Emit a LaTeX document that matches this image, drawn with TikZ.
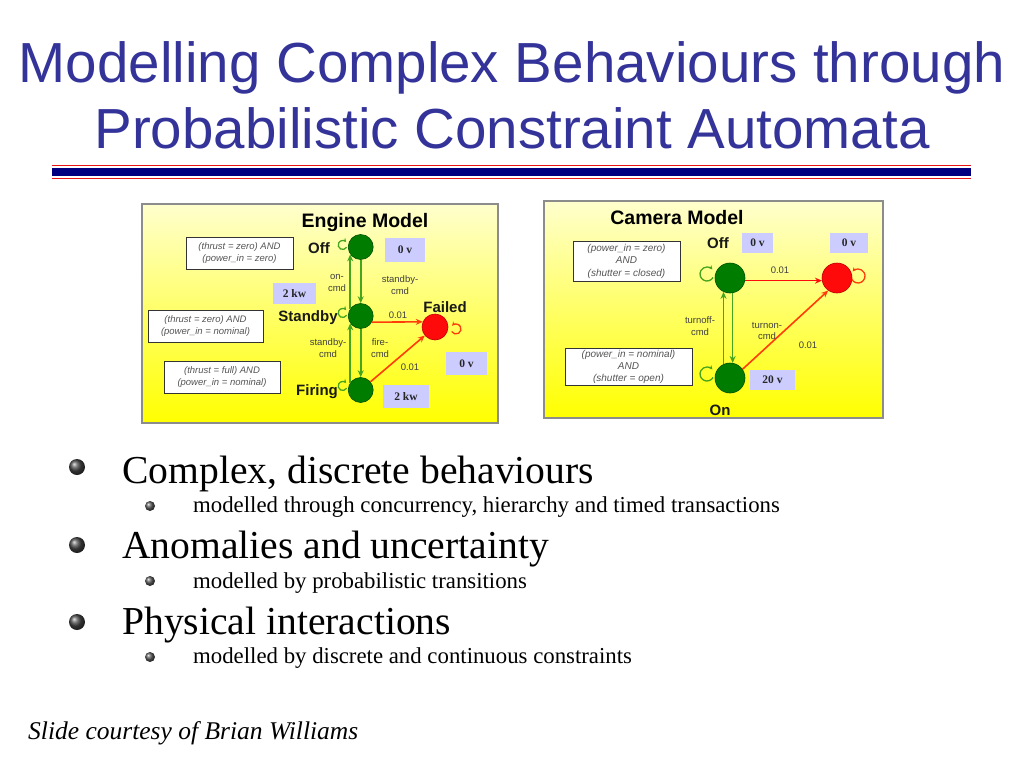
\documentclass[tikz,border=0pt]{standalone}
\usepackage{fontspec}
\setmainfont{Liberation Serif}
\newfontfamily\arialf{Liberation Sans}
\usetikzlibrary{arrows.meta,calc}
\definecolor{titleblue}{RGB}{51,51,153}
\definecolor{navyrule}{RGB}{0,0,128}
\definecolor{rulered}{RGB}{230,20,20}
\definecolor{nodegreen}{RGB}{0,125,0}
\definecolor{nodegreenedge}{RGB}{0,80,0}
\definecolor{arrgreen}{RGB}{70,165,30}
\definecolor{failred}{RGB}{255,10,10}
\definecolor{arrorange}{RGB}{255,60,10}
\definecolor{lavender}{RGB}{204,204,255}
\definecolor{paleyellow}{RGB}{255,255,205}
\definecolor{panelborder}{RGB}{140,140,140}
\definecolor{constrtext}{RGB}{85,85,85}
\tikzset{
  panel/.style={draw=panelborder,line width=1.6pt,top color=paleyellow,bottom color=yellow},
  gstate/.style={circle,fill=nodegreen,draw=nodegreenedge,line width=0.6pt,inner sep=0pt},
  rstate/.style={circle,fill=failred,draw=red!75!black,line width=0.6pt,inner sep=0pt},
  garr/.style={draw=arrgreen,line width=1.6pt,-{Stealth[length=7pt,width=6pt]}},
  oarr/.style={draw=arrorange,line width=1.6pt,-{Stealth[length=7pt,width=6pt]}},
  gloop/.style={draw=arrgreen,line width=1.3pt,-{Stealth[length=4pt,width=4pt]}},
  oloop/.style={draw=arrorange,line width=1.3pt,-{Stealth[length=4pt,width=4pt]}},
  constr/.style={draw=black!80,line width=0.9pt,fill=white,inner sep=0pt,align=center,
     font=\arialf\itshape\fontsize{9.5}{12.5}\selectfont,text=constrtext},
  volt/.style={fill=lavender,inner sep=0pt,font=\bfseries\fontsize{11.5}{12}\selectfont,text=black!85},
  slabel/.style={font=\arialf\bfseries\fontsize{15}{16}\selectfont,text=black!90,inner sep=0pt},
  mtitle/.style={font=\arialf\bfseries\fontsize{19.5}{20}\selectfont,inner sep=0pt},
  elabel/.style={font=\arialf\fontsize{9.5}{11.5}\selectfont,text=black!75,align=center,inner sep=0pt},
  bigball/.style={circle,shading=ball,ball color=black!72,inner sep=0pt,minimum size=16pt},
  smallball/.style={circle,shading=ball,ball color=black!65,inner sep=0pt,minimum size=10pt},
  btext/.style={anchor=base west,inner sep=0pt,font=\fontsize{39.6}{44}\selectfont},
  stext/.style={anchor=base west,inner sep=0pt,font=\fontsize{22.8}{26}\selectfont},
}
\begin{document}
\begin{tikzpicture}[x=1pt,y=-1pt]
\useasboundingbox (0,0) rectangle (1024,768);
\fill[white] (0,0) rectangle (1024,768);

% Title
\node[anchor=base,inner sep=0pt,text=titleblue,font=\arialf\fontsize{56.5}{66}\selectfont] (t1) at (512,82) {Modelling Complex Behaviours through};
\node[anchor=base,inner sep=0pt,text=titleblue,font=\arialf\fontsize{56.5}{66}\selectfont] (t2) at (512,148) {Probabilistic Constraint Automata};

% Rules
\draw[rulered,line width=1.5pt] (52,165.5) -- (971,165.5);
\fill[navyrule] (52,168) rectangle (971,176);
\draw[rulered,line width=1.5pt] (52,178.5) -- (971,178.5);

% ===== Engine panel =====
\path[panel] (142,204) rectangle (498,423);
\node[mtitle] (etitle) at (365,222) {Engine Model};

\node[gstate,minimum size=25pt] (eoff) at (360.7,247) {};
\node[gstate,minimum size=25pt] (estb) at (360.7,316) {};
\node[gstate,minimum size=25pt] (efir) at (360.7,390) {};
\node[rstate,minimum size=26pt] (efail) at (435,327) {};

\node[slabel] (loff) at (319,248) {Off};
\node[slabel] (lstb) at (308,318) {Standby};
\node[slabel] (lfir) at (317,392) {Firing};
\node[slabel] (lfail) at (445,307) {Failed};

\node[constr,minimum width=107pt,minimum height=32pt] (ec1) at (239.5,253) {(thrust = zero) AND\\(power\_in = zero)};
\node[constr,minimum width=115pt,minimum height=32pt] (ec2) at (205.5,326) {(thrust = zero) AND\\(power\_in = nominal)};
\node[constr,minimum width=116pt,minimum height=32pt] (ec3) at (222,377) {(thrust = full) AND\\(power\_in = nominal)};

\node[volt,minimum width=40pt,minimum height=24pt] (ev1) at (405,250) {0 v};
\node[volt,minimum width=43pt,minimum height=21pt] (ev2) at (294.5,293.5) {2 kw};
\node[volt,minimum width=41pt,minimum height=23pt] (ev3) at (466.5,363.5) {0 v};
\node[volt,minimum width=46pt,minimum height=23pt] (ev4) at (406,396.5) {2 kw};

\draw[garr] (estb.145) -- (eoff.215);
\draw[garr] (eoff.south) -- (estb.north);
\draw[garr] (efir.145) -- (estb.215);
\draw[garr] (estb.south) -- (efir.north);
\draw[oarr] (estb.-29) -- (efail.157);
\draw[oarr] (efir.40) -- (efail.220);

\draw[gloop] ($(eoff)+(-18,-2)$) ++(30:4.5) arc[start angle=30,end angle=320,radius=4.5];
\draw[gloop] ($(estb)+(-18,-3)$) ++(30:4.5) arc[start angle=30,end angle=320,radius=4.5];
\draw[gloop] ($(efir)+(-18,-4)$) ++(30:4.5) arc[start angle=30,end angle=320,radius=4.5];
\draw[oloop] ($(efail)+(21,2)$) ++(150:5) arc[start angle=150,end angle=-140,radius=5];

\node[elabel] (el1) at (337,283) {on-\\cmd};
\node[elabel] (el2) at (400,285) {standby-\\cmd};
\node[elabel] (el3) at (328,348) {standby-\\cmd};
\node[elabel] (el4) at (380,348) {fire-\\cmd};
\node[elabel] (el5) at (398,315) {0.01};
\node[elabel] (el6) at (410,367) {0.01};

% ===== Camera panel =====
\path[panel] (544,201) rectangle (883,418);
\node[mtitle] (ctitle) at (677,218) {Camera Model};

\node[gstate,minimum size=30pt] (coff) at (730,278) {};
\node[rstate,minimum size=30pt] (cred) at (837,278) {};
\node[gstate,minimum size=30pt] (con) at (730,378) {};

\node[slabel] (lcoff) at (718,243) {Off};
\node[slabel] (lcon) at (720,410) {On};

\node[constr,minimum width=107pt,minimum height=40pt,font=\arialf\itshape\fontsize{10}{12.5}\selectfont] (cc1) at (626.5,261) {(power\_in = zero)\\AND\\(shutter = closed)};
\node[constr,minimum width=127pt,minimum height=37pt,font=\arialf\itshape\fontsize{10}{12}\selectfont] (cc2) at (628.5,366.5) {(power\_in = nominal)\\AND\\(shutter = open)};

\node[volt,minimum width=31pt,minimum height=20pt] (cv1) at (757.5,243) {0 v};
\node[volt,minimum width=38pt,minimum height=20pt] (cv2) at (849,243) {0 v};
\node[volt,minimum width=45pt,minimum height=20pt] (cv3) at (772.5,380) {20 v};

\draw[oarr,draw=failred] (coff.-10) -- (cred.190);
\draw[garr] (con.115) -- (coff.245);
\draw[garr] (coff.-80) -- (con.80);
\draw[oarr] (con.35) -- (cred.235);

\draw[gloop] ($(coff)+(-23,-4)$) ++(30:7) arc[start angle=30,end angle=320,radius=7];
\draw[gloop] ($(con)+(-23,-4)$) ++(30:7) arc[start angle=30,end angle=320,radius=7];
\draw[oloop] ($(cred)+(21,-2)$) ++(150:7) arc[start angle=150,end angle=-140,radius=7];

\node[elabel] (cl1) at (700,326) {turnoff-\\cmd};
\node[elabel] (cl2) at (767,331) {turnon-\\cmd};
\node[elabel] (cl3) at (780,270) {0.01};
\node[elabel] (cl4) at (808,345) {0.01};

% ===== Bullets =====
\node[bigball] (b1) at (77,467) {};
\node[bigball] (b2) at (77,545) {};
\node[bigball] (b3) at (77,622) {};
\node[smallball] (s1) at (150,506) {};
\node[smallball] (s2) at (150,581) {};
\node[smallball] (s3) at (150,657) {};

\node[btext] (bt1) at (122,483) {Complex, discrete behaviours};
\node[btext] (bt2) at (122,558) {Anomalies and uncertainty};
\node[btext] (bt3) at (122,634) {Physical interactions};
\node[stext] (st1) at (193,512) {modelled through concurrency, hierarchy and timed transactions};
\node[stext] (st2) at (193,588) {modelled by probabilistic transitions};
\node[stext] (st3) at (193,663) {modelled by discrete and continuous constraints};

% Footer
\node[anchor=base west,inner sep=0pt,font=\itshape\fontsize{25.5}{28}\selectfont] (foot) at (28,739) {Slide courtesy of Brian Williams};
\end{tikzpicture}
\end{document}
